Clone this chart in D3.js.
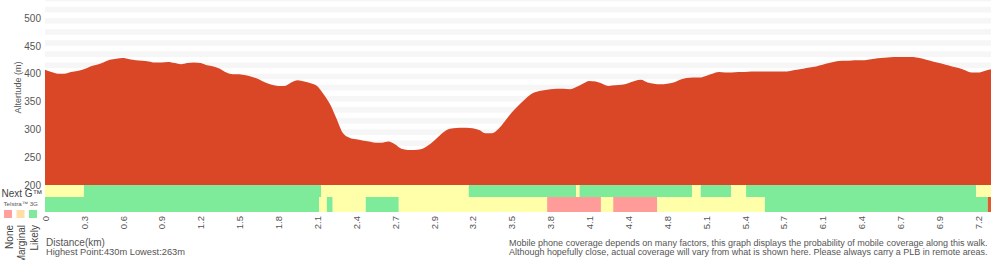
<!DOCTYPE html>
<html>
<head>
<meta charset="utf-8">
<script src="https://cdn.jsdelivr.net/npm/d3@7"></script>
<style>
body { margin: 0; background: #fff; }
svg { display: block; font-family: "Liberation Sans", Arial, sans-serif; }
</style>
</head>
<body>
<script>
// elevation samples (m), one every sample step along the walk
var elevation = [407, 403, 400, 400, 403, 405, 408, 413, 416, 420,
    425, 427, 428, 426, 424, 423, 422, 420, 420, 421,
    419, 417, 419, 420, 419, 415, 413, 409, 402, 399,
    399, 397, 394, 390, 384, 380, 378, 378, 384, 388,
    386, 383, 378, 363, 345, 319, 293, 285, 282, 280,
    278, 276, 276, 278, 273, 265, 263, 263, 264, 270,
    279, 290, 299, 302, 303, 303, 302, 299, 293, 293,
    301, 315, 330, 342, 353, 363, 368, 370, 372, 373,
    373, 372, 376, 382, 387, 386, 382, 378, 379, 380,
    383, 387, 389, 384, 382, 381, 382, 384, 389, 392,
    393, 393, 396, 400, 403, 402, 402, 403, 403, 404,
    404, 404, 404, 404, 404, 405, 407, 409, 411, 413,
    416, 419, 422, 423, 423, 424, 424, 425, 427, 428,
    429, 430, 430, 430, 430, 428, 425, 422, 419, 416,
    413, 410, 406, 402, 402, 405, 408];

// distance labels, every 6th sample
var tickLabels = ["0", "0.3", "0.6", "0.9", "1.2", "1.5", "1.8", "2.1", "2.4", "2.7",
    "2.9", "3.2", "3.5", "3.8", "4.1", "4.4", "4.8", "5.1", "5.4", "5.7",
    "6.1", "6.4", "6.7", "6.9", "7.2"];
var yTicks = [200, 250, 300, 350, 400, 450, 500];

// coverage, as breakpoints (sample units) and the level between them
var nextGBreaks = [0, 6, 42.6, 65.4, 81.95, 82.5, 99.85, 101.2, 105.9, 108.2, 143.7, 146];
var nextGLevels = ["Marginal", "Likely", "Marginal", "Likely", "Marginal", "Likely",
    "Marginal", "Likely", "Marginal", "Likely", "Marginal"];
var telstraBreaks = [0, 42.3, 43.5, 44.4, 49.5, 54.6, 77.5, 85.8, 87.7, 94.5, 111.1, 145.5, 146];
var telstraLevels = ["Likely", "Marginal", "Likely", "Marginal", "Likely", "Marginal",
    "None", "Marginal", "None", "Marginal", "Likely", "Unknown"];
var legendLevels = ["None", "Marginal", "Likely"];

var notes = ["Mobile phone coverage depends on many factors, this graph displays the probability of mobile coverage along this walk.",
    "Although hopefully close, actual coverage will vary from what is shown here. Please always carry a PLB in remote areas."];

var width = 1000, height = 260;
var left = 45, right = 991;

var svg = d3.select("body")
    .append("svg")
    .attr("width", width)
    .attr("height", height);

var x = d3.scaleLinear()
    .domain([0, elevation.length - 1])
    .range([left, right]);

var y = d3.scaleLinear()
    .domain([200, 500])
    .range([185, 18]);

var barColor = { None: "#ff9b98", Marginal: "#ffffaa", Likely: "#7eeb9a", Unknown: "#e25b2c" };
var swatchColor = { None: "#ffa09e", Marginal: "#ffdfa6", Likely: "#80e99b" };

svg.append("clipPath").attr("id", "plot")
    .append("rect")
    .attr("x", left).attr("y", 0)
    .attr("width", right - left).attr("height", y(200));

// light striped background, every other 10 m band
svg.append("g")
    .attr("clip-path", "url(#plot)")
    .selectAll("rect")
    .data(d3.range(210, 540, 20))
    .enter().append("rect")
    .attr("x", left)
    .attr("width", right - left)
    .attr("y", d => y(d + 10))
    .attr("height", d => y(d) - y(d + 10))
    .attr("fill", "#f6f6f6");

var area = d3.area()
    .x((d, i) => x(i))
    .y0(y(200))
    .y1(d => y(d))
    .curve(d3.curveMonotoneX);

svg.append("path")
    .datum(elevation)
    .attr("fill", "#d94727")
    .attr("d", area);

// coverage rows
var rows = [
    { breaks: nextGBreaks, levels: nextGLevels, y0: 185, h: 12 },
    { breaks: telstraBreaks, levels: telstraLevels, y0: 197, h: 15 }
];
rows.forEach(r => {
    svg.append("g")
        .selectAll("rect")
        .data(r.levels.map((l, i) => ({ level: l, a: r.breaks[i], b: r.breaks[i + 1] })))
        .enter().append("rect")
        .attr("x", d => x(d.a))
        .attr("width", d => x(d.b) - x(d.a))
        .attr("y", r.y0)
        .attr("height", r.h)
        .attr("fill", d => barColor[d.level]);
});

// axes
var yAxis = svg.append("g")
    .attr("transform", `translate(${left},0)`)
    .call(d3.axisLeft(y).tickValues(yTicks).tickSize(0).tickPadding(4));
yAxis.select(".domain").remove();
yAxis.selectAll("text").attr("fill", "#555").style("font-size", "10px");

var xAxis = svg.append("g")
    .attr("transform", "translate(0,212)")
    .call(d3.axisBottom(x)
        .tickValues(d3.range(0, tickLabels.length * 6, 6))
        .tickFormat((d, i) => tickLabels[i])
        .tickSize(0));
xAxis.select(".domain").remove();
xAxis.selectAll("text")
    .attr("transform", "rotate(-90)")
    .attr("text-anchor", "end")
    .attr("x", -4)
    .attr("y", 0)
    .attr("dy", "0.35em")
    .attr("fill", "#555")
    .style("font-size", "9.5px");

svg.append("text")
    .attr("transform", "translate(20.5,87.5) rotate(-90)")
    .attr("text-anchor", "middle")
    .attr("fill", "#555")
    .style("font-size", "9px")
    .text("Altertude (m)");

// legend on the left
svg.append("text")
    .attr("x", 1.5).attr("y", 197)
    .attr("fill", "#444")
    .style("font-size", "10px")
    .text("Next G™");

svg.append("text")
    .attr("x", 3.5).attr("y", 206)
    .attr("fill", "#555")
    .style("font-size", "6.2px")
    .text("Telstra™ 3G");

var lg = svg.append("g")
    .selectAll("g")
    .data(legendLevels)
    .enter().append("g")
    .attr("transform", (d, i) => `translate(${4 + i * 12.5},210)`);
lg.append("rect")
    .attr("width", 8).attr("height", 8)
    .attr("fill", d => swatchColor[d]);
lg.append("text")
    .attr("transform", "translate(8.5,15) rotate(-90)")
    .attr("text-anchor", "end")
    .attr("fill", "#444")
    .style("font-size", "10px")
    .text(d => d);

// footer text
svg.append("text")
    .attr("x", 46).attr("y", 246)
    .attr("fill", "#555")
    .style("font-size", "10px")
    .text("Distance(km)");
svg.append("text")
    .attr("x", 46).attr("y", 255)
    .attr("fill", "#555")
    .style("font-size", "9.3px")
    .text("Highest Point:" + d3.max(elevation) + "m Lowest:" + d3.min(elevation) + "m");

svg.selectAll(".note")
    .data(notes)
    .enter().append("text")
    .attr("class", "note")
    .attr("x", 509)
    .attr("y", (d, i) => 245.5 + i * 9)
    .attr("fill", "#555")
    .style("font-size", "10px")
    .text(d => d)
    .each(function () {
        // shrink the font so each line spans the same width as the original
        var w = this.getComputedTextLength();
        d3.select(this).style("font-size", (10 * 479 / w) + "px");
    });
</script>
</body>
</html>
